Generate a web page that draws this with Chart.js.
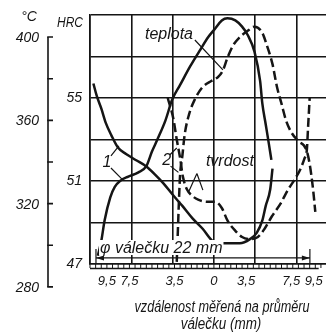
<!DOCTYPE html>
<html><head><meta charset="utf-8">
<script src="https://cdn.jsdelivr.net/npm/chart.js@4/dist/chart.umd.min.js"></script>
<style>html,body{margin:0;padding:0;background:#fff;overflow:hidden}#wrap{width:326px;height:333px}</style>
</head><body><div id="wrap"><canvas id="c" width="326" height="333"></canvas></div>
<script>
// ---- data (x = distance on roller diameter in mm, centre = 0) ----
const xTemp1 = [-10.3, -10.0, -9.7, -9.2, -8.8, -8.3, -7.6, -6.7, -6.0, -5.5, -5.0, -4.3, -3.7, -3.0, -2.1, -1.2, -0.5, 0.1, 0.7, 1.2, 1.9, 2.5, 3.0, 3.6, 4.1, 4.3, 4.6, 4.9, 5.1];
const temp1  = [295, 302, 312, 323, 328, 331, 333, 335, 338, 345, 351, 360, 370, 377, 386, 394, 400, 404, 408, 409, 408, 405, 401, 393, 379, 368, 358, 348, 341];
const xTemp2 = [-3.3, -3.2, -3.1, -3.0, -2.8, -2.6, -2.2, -1.7, -1.0, -0.2, 0.4, 0.8, 1.2, 1.7, 2.3, 3.0, 3.6, 4.3, 4.7, 5.2, 5.6, 6.0, 6.4, 6.9, 7.5, 8.2, 8.5, 8.8, 9.0];
const temp2  = [292, 307, 322, 334, 343, 353, 363, 370, 376, 379, 381, 384, 390, 396, 400, 403, 405, 402, 396, 387, 376, 368, 360, 354, 350, 346, 339, 327, 316];
const xHard1 = [-10.7, -10.4, -10.0, -9.6, -9.1, -8.5, -7.8, -6.9, -6.0, -5.2, -4.5, -3.6, -2.8, -1.9, -1.0, -0.1, 0.5, 1.4, 2.3, 3.2, 3.8, 4.3, 4.6, 5.0, 5.2];
const hard1  = [55.7, 55.1, 54.5, 53.8, 53.2, 52.6, 52.3, 52.0, 51.7, 51.3, 50.9, 50.3, 49.8, 49.2, 48.7, 48.1, 48.0, 48.0, 48.0, 48.2, 48.5, 49.1, 49.8, 50.6, 51.6];
const xHard2 = [-4.1, -3.6, -3.3, -3.0, -2.75, -2.4, -1.95, -1.4, -0.6, 0.1, 0.7, 1.2, 1.9, 2.5, 3.2, 3.9, 4.5, 5.15, 5.9, 6.6, 7.2, 7.7, 8.05, 8.25, 8.35, 8.45, 8.5];
const hard2  = [55.0, 54.0, 53.0, 52.1, 51.2, 50.6, 50.3, 50.1, 50.0, 50.0, 49.7, 49.1, 48.6, 48.3, 48.2, 48.3, 48.7, 49.3, 49.9, 50.6, 51.1, 51.6, 52.1, 52.5, 53.5, 54.5, 55.0];

// ---- axes / ticks ----
const xGrid      = [-11, -7.333, -3.667, 0, 3.667, 7.333];
const xTickVals  = [-9.5, -7.5, -3.5, 0, 3.5, 7.5, 9.5];
const hrcLabels  = [47, 51, 55];
const tempTicks  = [280, 300, 320, 340, 360, 380, 400];
const tempLabels = [280, 320, 360, 400];
const xTitle     = ['vzdálenost měřená na průměru', 'válečku (mm)'];
const dimText    = 'φ válečku 22 mm';

const ink = '#151515';
const FONT = "'Liberation Sans', Arial, sans-serif";
Chart.defaults.font.family = FONT;
Chart.defaults.color = ink;

const pts = (xs, ys) => xs.map((x, i) => ({x, y: ys[i]}));
const common = {pointRadius: 0, borderColor: ink, borderWidth: 2.5, cubicInterpolationMode: 'monotone', fill: false};

function arrow(ctx, x, y, dir) {
  ctx.beginPath(); ctx.moveTo(x, y); ctx.lineTo(x - dir * 8, y - 2.5); ctx.lineTo(x - dir * 8, y + 2.5); ctx.closePath(); ctx.fill();
}
function squeezed(ctx, text, x, y, sx) {
  ctx.save(); ctx.translate(x, y); ctx.scale(sx, 1); ctx.fillText(text, 0, 0); ctx.restore();
}

const extras = {
  id: 'extras',
  afterDraw(chart) {
    const {ctx, chartArea: ca, scales} = chart;
    const xs = scales.x, yT = scales.yT;
    const px = v => xs.getPixelForValue(v), py = v => yT.getPixelForValue(v);
    ctx.save();
    ctx.strokeStyle = ink; ctx.fillStyle = ink; ctx.lineCap = 'butt';

    // separate °C axis
    const axX = 48;
    ctx.lineWidth = 1.6;
    ctx.beginPath(); ctx.moveTo(axX, py(400)); ctx.lineTo(axX, py(280)); ctx.stroke();
    ctx.beginPath();
    tempTicks.forEach(t => { ctx.moveTo(axX - 0.8, py(t)); ctx.lineTo(axX + 5, py(t)); });
    ctx.stroke();
    ctx.font = 'italic 14px ' + FONT; ctx.textAlign = 'right'; ctx.textBaseline = 'middle';
    tempLabels.forEach(t => ctx.fillText(String(t), axX - 9, py(t) + 1));
    ctx.textAlign = 'center';
    ctx.fillText('°C', 29, 17);
    ctx.font = 'italic 15px ' + FONT; ctx.textAlign = 'right';
    squeezed(ctx, 'HRC', 83, 23, 0.8);

    // bottom ruler
    ctx.lineWidth = 1;
    ctx.beginPath();
    for (let v = -11; v <= 9.6; v += 0.5) { ctx.moveTo(px(v), ca.bottom); ctx.lineTo(px(v), ca.bottom + 4); }
    ctx.stroke();
    ctx.lineWidth = 1.4;
    ctx.beginPath(); ctx.moveTo(ca.left, ca.bottom + 4.5); ctx.lineTo(px(9.3), ca.bottom + 4.5); ctx.stroke();

    // dimension line φ 22 mm
    const dy = py(293.9), d0 = px(-10.47), d1 = px(8.52);
    ctx.lineWidth = 1.2;
    ctx.beginPath(); ctx.moveTo(d0, dy); ctx.lineTo(d1, dy);
    ctx.moveTo(d0, dy - 9); ctx.lineTo(d0, dy + 5); ctx.moveTo(d1, dy - 9); ctx.lineTo(d1, dy + 5);
    ctx.stroke();
    arrow(ctx, d0, dy, -1); arrow(ctx, d1, dy, 1);
    ctx.fillStyle = '#fff';
    ctx.font = 'italic 16px ' + FONT;
    const tw = ctx.measureText(dimText).width;
    ctx.fillRect(px(-10.2), py(298.2) - 9, tw + 2, 15);
    ctx.fillStyle = ink; ctx.textAlign = 'left';
    ctx.fillText(dimText, px(-10.2) + 1, py(298.2));

    // curve labels and leaders
    ctx.font = 'italic 16px ' + FONT; ctx.textAlign = 'center'; ctx.textBaseline = 'middle';
    ctx.fillText('teplota', px(-3.99), py(401));
    ctx.fillText('tvrdost', px(1.42), py(340));
    ctx.fillText('1', px(-9.5), py(339.5));
    ctx.fillText('2', px(-4.2), py(340.5));
    ctx.lineWidth = 1.2;
    const seg = (a, b, c, d) => { ctx.moveTo(px(a), py(b)); ctx.lineTo(px(c), py(d)); };
    ctx.beginPath();
    seg(-1.69, 398.6, 0.80, 384.2);          // teplota
    seg(-2.25, 325.6, -1.51, 334.5);          // tvrdost
    seg(-1.51, 334.5, -0.98, 326.5);
    seg(-9.14, 342.9, -8.43, 347.7);          // 1
    seg(-9.14, 337.1, -8.16, 331.8);
    seg(-3.9, 343.5, -3.3, 346.7);            // 2
    seg(-3.85, 338.0, -3.15, 335.0);
    ctx.stroke();

    // axis title
    ctx.font = 'italic 16px ' + FONT; ctx.textAlign = 'center';
    squeezed(ctx, xTitle[0], 222, 308, 0.79);
    squeezed(ctx, xTitle[1], 221, 325, 0.84);
    ctx.restore();
  }
};

new Chart(document.getElementById('c'), {
  type: 'line',
  data: {
    datasets: [
      {...common, label: 'teplota 1', data: pts(xTemp1, temp1), yAxisID: 'yT'},
      {...common, label: 'teplota 2', data: pts(xTemp2, temp2), yAxisID: 'yT', borderDash: [9, 4]},
      {...common, label: 'tvrdost 1', data: pts(xHard1, hard1), yAxisID: 'y'},
      {...common, label: 'tvrdost 2', data: pts(xHard2, hard2), yAxisID: 'y', borderDash: [9, 4]}
    ]
  },
  options: {
    responsive: false, animation: false, devicePixelRatio: 1,
    layout: {padding: {top: 15, left: 0, right: 0, bottom: 0}},
    plugins: {legend: {display: false}, tooltip: {enabled: false}},
    scales: {
      x: {
        type: 'linear', position: 'bottom', min: -11, max: 9.95,
        afterBuildTicks: s => { s.ticks = xGrid.map(v => ({value: v})); },
        ticks: {display: false},
        grid: {color: ink, lineWidth: 1.6, drawTicks: false},
        border: {display: true, color: ink, width: 1.6},
        afterFit: s => { s.height = 0; s.paddingLeft = 0; s.paddingRight = 0; }
      },
      xl: {
        type: 'linear', position: 'bottom', min: -11, max: 9.95,
        afterBuildTicks: s => { s.ticks = xTickVals.map(v => ({value: v})); },
        ticks: {autoSkip: false, maxRotation: 0, padding: 10,
                font: {size: 13, style: 'italic'},
                callback: v => String(Math.abs(v)).replace('.', ',') + (v > 0 ? '\u2007\u2007' : '')},
        grid: {display: false, drawTicks: false},
        border: {display: false},
        afterFit: s => { s.height = 69; s.paddingLeft = 0; s.paddingRight = 0; }
      },
      y: {
        position: 'left', min: 47, max: 59,
        ticks: {stepSize: 2, padding: 8, font: {size: 14, style: 'italic'},
                callback: v => hrcLabels.includes(v) ? String(v) : ''},
        grid: {color: ink, lineWidth: 1.6, drawTicks: false},
        border: {display: true, color: ink, width: 1.6},
        afterFit: s => { s.width = 90; s.paddingTop = 0; s.paddingBottom = 0; }
      },
      yT: {display: false, min: 291.0, max: 410.6}
    }
  },
  plugins: [extras]
});
</script>
</body></html>
